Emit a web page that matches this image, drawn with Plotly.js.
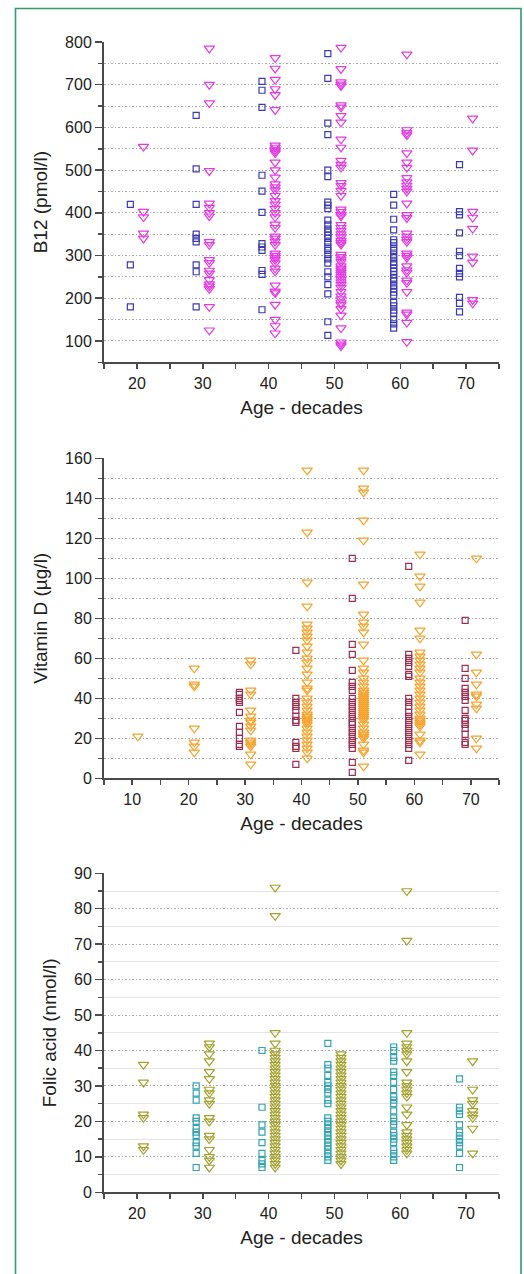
<!DOCTYPE html>
<html>
<head>
<meta charset="utf-8">
<script src="https://cdn.plot.ly/plotly-3.0.1.min.js"></script>
<style>html,body{margin:0;padding:0;background:#fff;}#chart{width:524px;height:1274px;}</style>
</head>
<body>
<div id="chart"></div>
<script>
// ---- Data ----
const ageDecades = [20, 30, 40, 50, 60, 70];
const ageDecadesVitD = [10, 20, 30, 40, 50, 60, 70];

// B12 (pmol/l) — squares (left of each decade) and triangles (right)
const b12Squares = [
  [420, 278, 180],
  [628, 503, 420, 350, 340, 332, 278, 262, 180],
  [708, 687, 647, 488, 451, 401, 328, 320, 312, 265, 256, 173],
  [773, 715, 610, 583, 500, 485, 425, 418, 410, 383, 372, 362, 355, 348, 340, 330, 320, 312, 302, 292, 282, 262, 250, 232, 210, 145, 113],
  [443, 418, 385, 360, 337, 330, 320, 312, 303, 295, 285, 278, 270, 263, 255, 247, 240, 230, 222, 214, 207, 190, 182, 172, 165, 150, 140, 130],
  [513, 403, 395, 353, 310, 300, 270, 258, 250, 202, 188, 168]
];
const b12Triangles = [
  [555, 403, 390, 352, 340],
  [785, 700, 657, 498, 422, 412, 400, 392, 332, 325, 290, 283, 265, 258, 243, 233, 228, 222, 180, 125],
  [763, 738, 712, 690, 676, 641, 558, 553, 548, 544, 540, 518, 500, 483, 467, 460, 453, 440, 428, 420, 410, 400, 390, 373, 365, 345, 340, 333, 325, 305, 300, 295, 290, 282, 270, 263, 230, 216, 212, 185, 150, 135, 118],
  [787, 737, 706, 701, 697, 652, 647, 627, 612, 572, 553, 522, 513, 506, 470, 463, 452, 440, 408, 402, 396, 392, 372, 365, 358, 350, 343, 335, 330, 326, 302, 297, 291, 285, 275, 270, 266, 261, 256, 250, 244, 238, 232, 225, 215, 205, 198, 190, 185, 175, 160, 130, 97, 92, 88],
  [771, 594, 587, 582, 540, 518, 506, 482, 472, 464, 457, 450, 422, 395, 388, 352, 345, 338, 332, 305, 300, 295, 275, 266, 260, 242, 236, 215, 167, 162, 143, 98],
  [621, 546, 403, 389, 363, 298, 284, 196, 188]
];

// Vitamin D (µg/l)
const vitDSquares = [
  [],
  [],
  [43, 42, 40, 39, 38, 33, 26, 23, 20, 17, 16],
  [64, 40, 38, 36, 34, 31, 29, 28, 18, 16, 15, 7],
  [110, 90, 67, 62, 54, 48, 46, 44, 40, 38, 36, 34, 32, 30, 28, 27, 25, 23, 21, 19, 17, 15, 8, 3],
  [106, 62, 60, 58, 56, 52, 51, 40, 38, 36, 33, 31, 29, 27, 25, 23, 21, 19, 17, 15, 9],
  [79, 55, 50, 45, 43, 41, 39, 34, 30, 29, 27, 25, 22, 18, 17]
];
const vitDTriangles = [
  [21],
  [55, 47, 46, 25, 18, 16, 13],
  [59, 57, 44, 42, 34, 31, 29, 28, 26, 24, 19, 18, 17, 16, 12, 7],
  [154, 123, 98, 86, 77, 75, 73, 71, 69, 66, 63, 60, 58, 55, 52, 48, 45, 44, 40, 38, 36, 34, 32, 31, 30, 29, 28, 27, 25, 23, 21, 19, 17, 15, 13, 10],
  [154, 145, 143, 129, 119, 97, 82, 78, 76, 73, 67, 59, 55, 53, 50, 48, 46, 44, 43, 42, 41, 40, 39, 38, 37, 36, 35, 34, 33, 32, 31, 30, 29, 27, 25, 23, 22, 21, 20, 17, 14, 13, 6],
  [112, 101, 96, 88, 74, 70, 63, 61, 59, 57, 55, 53, 50, 48, 46, 44, 42, 40, 38, 36, 34, 32, 30, 29, 28, 27, 26, 22, 19, 18, 12],
  [110, 62, 53, 47, 42, 41, 37, 35, 20, 15]
];

// Folic acid (nmol/l)
const folicSquares = [
  [],
  [30, 28, 26, 21, 20, 18, 17, 16, 14, 13, 11, 7],
  [40, 24, 19, 17, 14, 11, 9, 8, 7],
  [42, 36, 35, 33, 31, 30, 29, 28, 26, 25, 21, 20, 19, 18, 17, 16, 15, 14, 13, 12, 11, 10, 9],
  [41, 40, 38, 37, 34, 33, 31, 29, 27, 26, 25, 23, 21, 20, 19, 17, 16, 15, 14, 12, 11, 10, 9],
  [32, 24, 23, 22, 19, 17, 16, 15, 14, 13, 11, 7]
];
const folicTriangles = [
  [36, 31, 22, 21, 13, 12],
  [42, 41, 39, 37, 34, 32, 29, 28, 26, 25, 21, 20, 16, 15, 12, 10, 9, 7],
  [86, 78, 45, 42, 40, 39, 38, 37, 36, 35, 34, 33, 32, 31, 30, 29, 28, 27, 26, 25, 24, 23, 22, 21, 20, 19, 18, 17, 16, 15, 14, 13, 12, 11, 10, 9, 8, 7],
  [39, 38, 37, 36, 35, 34, 33, 32, 31, 30, 29, 28, 27, 26, 25, 24, 23, 22, 21, 20, 19, 18, 17, 16, 15, 14, 13, 12, 11, 10, 9, 8],
  [85, 71, 45, 42, 41, 40, 39, 37, 34, 31, 30, 29, 28, 27, 24, 22, 19, 17, 16, 15, 14, 13, 12, 11],
  [37, 29, 26, 25, 23, 22, 21, 18, 11]
];

// ---- Build traces ----
function flatten(ages, groups, offset) {
  const xs = [], ys = [];
  groups.forEach((g, i) => g.forEach(v => { xs.push(ages[i] + offset); ys.push(v); }));
  return {xs, ys};
}
function mk(ages, groups, offset, symbol, color, size, xa, ya) {
  const d = flatten(ages, groups, offset);
  return {
    type: 'scatter', mode: 'markers', x: d.xs, y: d.ys, xaxis: xa, yaxis: ya,
    showlegend: false, hoverinfo: 'x+y', cliponaxis: false,
    marker: {symbol: symbol, size: size, color: color, line: {color: color, width: 1.2}}
  };
}

const traces = [
  mk(ageDecades, b12Squares, -1, 'square-open', '#3b3bb3', 6, 'x', 'y'),
  mk(ageDecades, b12Triangles, 1, 'triangle-down-open', '#e23be2', 9, 'x', 'y'),
  mk(ageDecadesVitD, vitDSquares, -1, 'square-open', '#9a2f52', 6, 'x2', 'y2'),
  mk(ageDecadesVitD, vitDTriangles, 1, 'triangle-down-open', '#f5a228', 9, 'x2', 'y2'),
  mk(ageDecades, folicSquares, -1, 'square-open', '#34a4b0', 6, 'x3', 'y3'),
  mk(ageDecades, folicTriangles, 1, 'triangle-down-open', '#a4a22e', 9, 'x3', 'y3')
];

const H = 1274, W = 524;
const xDom = [104 / W, 499 / W];
function yDom(top, bottom) { return [1 - bottom / H, 1 - top / H]; }

const fontFam = 'Liberation Sans, Arial, sans-serif';
const dotted = '1.5px,2px';
const axisCommon = {
  showline: true, linecolor: '#4a4a4a', linewidth: 2,
  ticks: 'outside', tickwidth: 1.5, tickcolor: '#4a4a4a',
  tickfont: {family: fontFam, size: 16, color: '#222'},
  zeroline: false, automargin: false, fixedrange: true
};
function xAx(range, dtick, anchor, minorDtick) {
  return Object.assign({}, axisCommon, {
    domain: xDom, range: range, dtick: dtick, tick0: 0, anchor: anchor, showgrid: false, ticklen: 5,
    minor: {dtick: minorDtick, tick0: 0, ticks: 'outside', ticklen: 5, tickcolor: '#4a4a4a', showgrid: false},
    title: {text: 'Age - decades', font: {family: fontFam, size: 19, color: '#222'}, standoff: 10}
  });
}
function yAx(domain, range, dtick, minorDtick, title, anchor, minorGrid) {
  return Object.assign({}, axisCommon, {
    domain: domain, range: range, dtick: dtick, tick0: 0, anchor: anchor, ticklen: 7,
    showgrid: true, gridcolor: '#a8a8a8', griddash: dotted, gridwidth: 1,
    minor: Object.assign({dtick: minorDtick, tick0: 0, ticks: 'outside', ticklen: 4, tickcolor: '#4a4a4a', showgrid: true, gridwidth: 1}, minorGrid),
    title: {text: title, font: {family: fontFam, size: 19, color: '#222'}, standoff: 12}
  });
}

const layout = {
  width: W, height: H,
  margin: {l: 0, r: 0, t: 0, b: 0},
  paper_bgcolor: '#ffffff', plot_bgcolor: 'rgba(0,0,0,0)',
  font: {family: fontFam, color: '#222'},
  xaxis: xAx([15, 75], 10, 'y', 5),
  yaxis: yAx(yDom(42, 362.3), [50, 800], 100, 50, 'B12 (pmol/l)', 'x', {gridcolor: '#a8a8a8', griddash: dotted}),
  xaxis2: xAx([5, 75], 10, 'y2', 5),
  yaxis2: yAx(yDom(458.3, 778.3), [0, 160], 20, 10, 'Vitamin D (µg/l)', 'x2', {gridcolor: '#a8a8a8', griddash: dotted}),
  xaxis3: xAx([15, 75], 10, 'y3', 5),
  yaxis3: yAx(yDom(873.3, 1192.3), [0, 90], 10, 5, 'Folic acid (nmol/l)', 'x3', {gridcolor: '#e4e4e4', griddash: 'solid'}),
  shapes: [
    {type: 'rect', xref: 'paper', yref: 'paper', x0: 15.5 / W, x1: 521 / W, y0: -0.01, y1: 1 - 8.5 / H,
     line: {color: '#2f9c70', width: 1.6}, fillcolor: 'rgba(0,0,0,0)', layer: 'above'}
  ]
};

Plotly.newPlot('chart', traces, layout, {staticPlot: true, displayModeBar: false});
</script>
</body>
</html>
